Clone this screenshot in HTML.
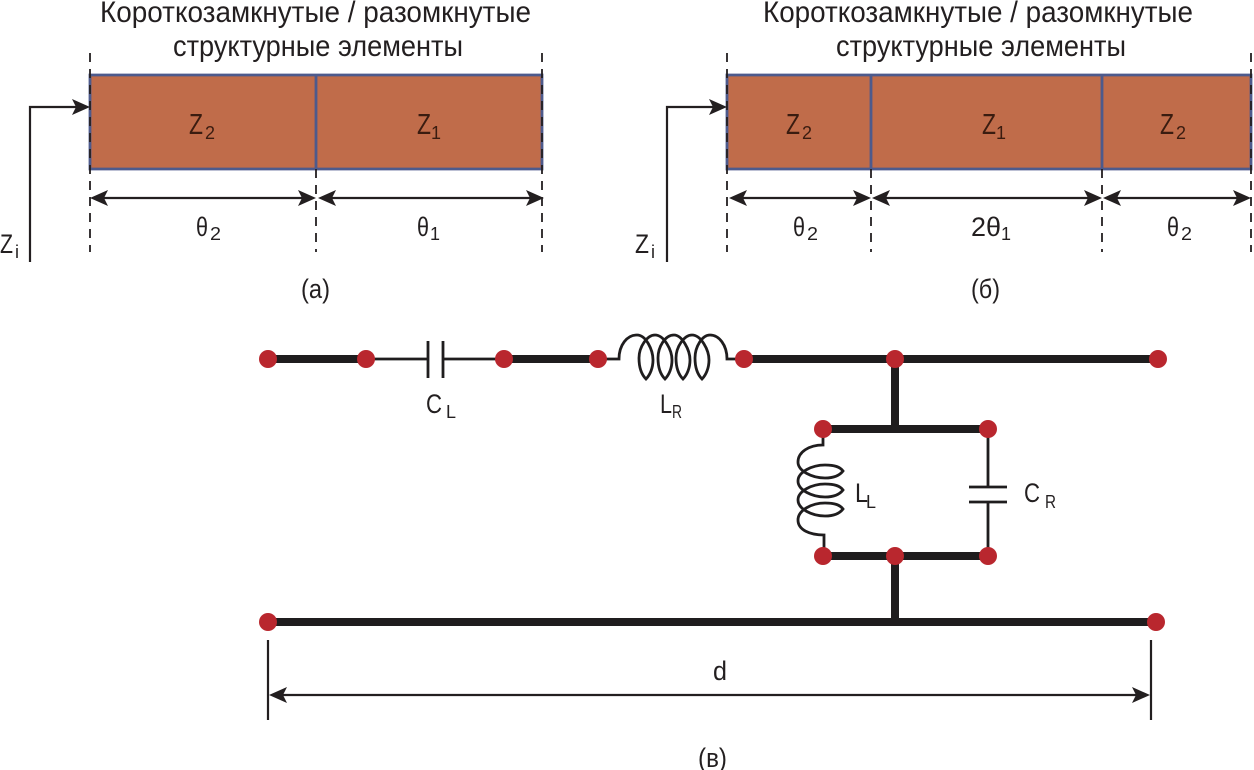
<!DOCTYPE html>
<html lang="ru"><head><meta charset="utf-8"><title>Diagram</title>
<style>
html,body{margin:0;padding:0;background:#fff}
svg{display:block}
text{font-family:"Liberation Sans",sans-serif;fill:#231f20}
.h{font-size:30px}
.m{font-size:29px;fill:#3a1c10}
.s{font-size:18px;fill:#3a1c10}
.k{font-size:27px}
.u{font-size:18px}
.c{font-size:27px}
.d{stroke:#231f20;stroke-width:1.8;stroke-dasharray:9 7;fill:none}
.w{stroke:#231f20;stroke-width:2.2;fill:none}
.t{stroke:#1f1d1e;stroke-width:8;fill:none}
.n{stroke:#1f1d1e;stroke-width:2.8;fill:none}
.a{fill:#231f20}
.r{fill:#c06c4a}
.b{stroke:#4d5a8c;stroke-width:2.8;fill:none}
.p{fill:#b9272e}
</style></head><body>
<svg width="1254" height="770" viewBox="0 0 1254 770" xmlns="http://www.w3.org/2000/svg">
<defs>
<path id="ah" d="M0 0 L-18 -8 L-14 0 L-18 8 Z" class="a"/>
</defs>

<!-- (a) -->
<text class="h" x="100" y="22" textLength="431" lengthAdjust="spacingAndGlyphs">Короткозамкнутые / разомкнутые</text>
<text class="h" x="173" y="56" textLength="290" lengthAdjust="spacingAndGlyphs">структурные элементы</text>
<rect class="r" x="90" y="75" width="452" height="94"/>
<path class="b" d="M90 75 H542 V169 H90 Z M316 75 V169"/>
<path class="d" d="M90 53 V252 M316 169 V252 M542 53 V252"/>
<path class="w" d="M30 262 V107 H78"/>
<use href="#ah" x="90" y="107"/>
<path class="w" d="M100 198 H306 M326 198 H532"/>
<use href="#ah" transform="translate(90 198) scale(-1 1)"/>
<use href="#ah" x="316" y="198"/>
<use href="#ah" transform="translate(318 198) scale(-1 1)"/>
<use href="#ah" x="544" y="198"/>
<text class="m" x="189" y="134" textLength="14" lengthAdjust="spacingAndGlyphs">Z</text><text class="s" x="205" y="139" textLength="10" lengthAdjust="spacingAndGlyphs">2</text>
<text class="m" x="417" y="134" textLength="14" lengthAdjust="spacingAndGlyphs">Z</text><text class="s" x="431" y="139" textLength="10" lengthAdjust="spacingAndGlyphs">1</text>
<text class="k" x="196" y="236" textLength="12" lengthAdjust="spacingAndGlyphs">θ</text><text class="u" x="210" y="240" textLength="11" lengthAdjust="spacingAndGlyphs">2</text>
<text class="k" x="417" y="236" textLength="12" lengthAdjust="spacingAndGlyphs">θ</text><text class="u" x="430" y="240" textLength="10" lengthAdjust="spacingAndGlyphs">1</text>
<text class="k" x="0" y="253" textLength="13" lengthAdjust="spacingAndGlyphs">Z</text><text class="u" x="15" y="258" textLength="4" lengthAdjust="spacingAndGlyphs">i</text>
<text class="c" x="301" y="298" textLength="29" lengthAdjust="spacingAndGlyphs">(a)</text>

<!-- (б) -->
<text class="h" x="763" y="22" textLength="430" lengthAdjust="spacingAndGlyphs">Короткозамкнутые / разомкнутые</text>
<text class="h" x="836" y="56" textLength="290" lengthAdjust="spacingAndGlyphs">структурные элементы</text>
<rect class="r" x="727" y="75" width="524" height="94"/>
<path class="b" d="M727 75 H1251 V169 H727 Z M871 75 V169 M1102 75 V169"/>
<path class="d" d="M727 53 V252 M871 169 V252 M1102 169 V252 M1251 53 V252"/>
<path class="w" d="M667 262 V107 H715"/>
<use href="#ah" x="727" y="107"/>
<path class="w" d="M738 198 H860 M882 198 H1092 M1112 198 H1240"/>
<use href="#ah" transform="translate(729 198) scale(-1 1)"/>
<use href="#ah" x="871" y="198"/>
<use href="#ah" transform="translate(872 198) scale(-1 1)"/>
<use href="#ah" x="1102" y="198"/>
<use href="#ah" transform="translate(1103 198) scale(-1 1)"/>
<use href="#ah" x="1251" y="198"/>
<text class="m" x="786" y="134" textLength="14" lengthAdjust="spacingAndGlyphs">Z</text><text class="s" x="802" y="139" textLength="10" lengthAdjust="spacingAndGlyphs">2</text>
<text class="m" x="982" y="134" textLength="14" lengthAdjust="spacingAndGlyphs">Z</text><text class="s" x="996" y="139" textLength="10" lengthAdjust="spacingAndGlyphs">1</text>
<text class="m" x="1160" y="134" textLength="14" lengthAdjust="spacingAndGlyphs">Z</text><text class="s" x="1176" y="139" textLength="10" lengthAdjust="spacingAndGlyphs">2</text>
<text class="k" x="793" y="236" textLength="12" lengthAdjust="spacingAndGlyphs">θ</text><text class="u" x="807" y="240" textLength="11" lengthAdjust="spacingAndGlyphs">2</text>
<text class="k" x="971" y="236" textLength="30" lengthAdjust="spacingAndGlyphs">2θ</text><text class="u" x="1001" y="240" textLength="10" lengthAdjust="spacingAndGlyphs">1</text>
<text class="k" x="1167" y="236" textLength="12" lengthAdjust="spacingAndGlyphs">θ</text><text class="u" x="1181" y="240" textLength="11" lengthAdjust="spacingAndGlyphs">2</text>
<text class="k" x="635" y="253" textLength="14" lengthAdjust="spacingAndGlyphs">Z</text><text class="u" x="651" y="258" textLength="4" lengthAdjust="spacingAndGlyphs">i</text>
<text class="c" x="971" y="298" textLength="29" lengthAdjust="spacingAndGlyphs">(б)</text>

<!-- (в) circuit -->
<path class="t" d="M268 359 H366 M504 359 H598 M744 359 H1158 M895 359 V429 M823 429 H988 M823 556 H988 M895 556 V622 M268 622 H1156"/>
<path class="n" d="M366 359 H428 M443 359 H504 M428 341 V378 M443 341 V378"/>
<path class="n" d="M598 359 H619 C619 345 627 335 637 335 C646 335 653 350 653 360 C653 368 650 375 646 379 C642 375 639 368 639 358 C639 347 647 335 655 335 C664 335 672 350 672 360 C672 368 669 375 665 379 C661 375 658 368 658 358 C658 347 665 335 674 335 C682 335 690 350 690 360 C690 368 687 375 683 379 C679 375 676 368 676 358 C676 347 684 335 692 335 C701 335 709 350 709 360 C709 368 706 375 702 379 C698 375 695 368 695 358 C695 347 702 335 710 335 C719 335 727 345 727 359 H744"/>
<path class="n" d="M823 429 V445 C809 445 798 452 798 462 C798 471 812 478 825 478 C835 478 840 475 843 471 C840 467 835 465 825 465 C812 465 798 472 798 481 C798 490 812 497 825 497 C835 497 840 494 843 490 C840 486 835 484 825 484 C812 484 798 491 798 500 C798 509 812 516 825 516 C835 516 840 513 843 509 C840 505 835 503 825 503 C812 503 798 510 798 520 C798 530 810 535 824 535 V556"/>
<path class="n" d="M988 429 V487 M988 502 V556 M969 487 H1007 M969 502 H1007"/>
<g class="p">
<circle cx="268" cy="359" r="9"/><circle cx="366" cy="359" r="9"/><circle cx="504" cy="359" r="9"/>
<circle cx="598" cy="359" r="9"/><circle cx="744" cy="359" r="9"/><circle cx="895" cy="359" r="9"/>
<circle cx="1158" cy="359" r="9"/><circle cx="823" cy="429" r="9"/><circle cx="988" cy="429" r="9"/>
<circle cx="823" cy="556" r="9"/><circle cx="895" cy="556" r="9"/><circle cx="988" cy="556" r="9"/>
<circle cx="268" cy="622" r="9"/><circle cx="1156" cy="622" r="9"/>
</g>
<text class="k" x="426" y="413" textLength="16" lengthAdjust="spacingAndGlyphs">C</text><text class="u" x="446" y="418" textLength="10" lengthAdjust="spacingAndGlyphs">L</text>
<text class="k" x="660" y="413" textLength="12" lengthAdjust="spacingAndGlyphs">L</text><text class="u" x="672" y="418" textLength="10" lengthAdjust="spacingAndGlyphs">R</text>
<text class="k" x="855" y="502" textLength="13" lengthAdjust="spacingAndGlyphs">L</text><text class="u" x="866" y="508" textLength="10" lengthAdjust="spacingAndGlyphs">L</text>
<text class="k" x="1024" y="502" textLength="16" lengthAdjust="spacingAndGlyphs">C</text><text class="u" x="1045" y="508" textLength="11" lengthAdjust="spacingAndGlyphs">R</text>

<path class="w" d="M268 640 V720 M1151 640 V720"/>
<path class="w" d="M280 695 H1140"/>
<use href="#ah" transform="translate(269 695) scale(-1 1)"/>
<use href="#ah" x="1150" y="695"/>
<text class="k" x="713" y="680" textLength="14" lengthAdjust="spacingAndGlyphs">d</text>
<text class="c" x="698" y="767" textLength="29" lengthAdjust="spacingAndGlyphs">(в)</text>
</svg>
</body></html>
